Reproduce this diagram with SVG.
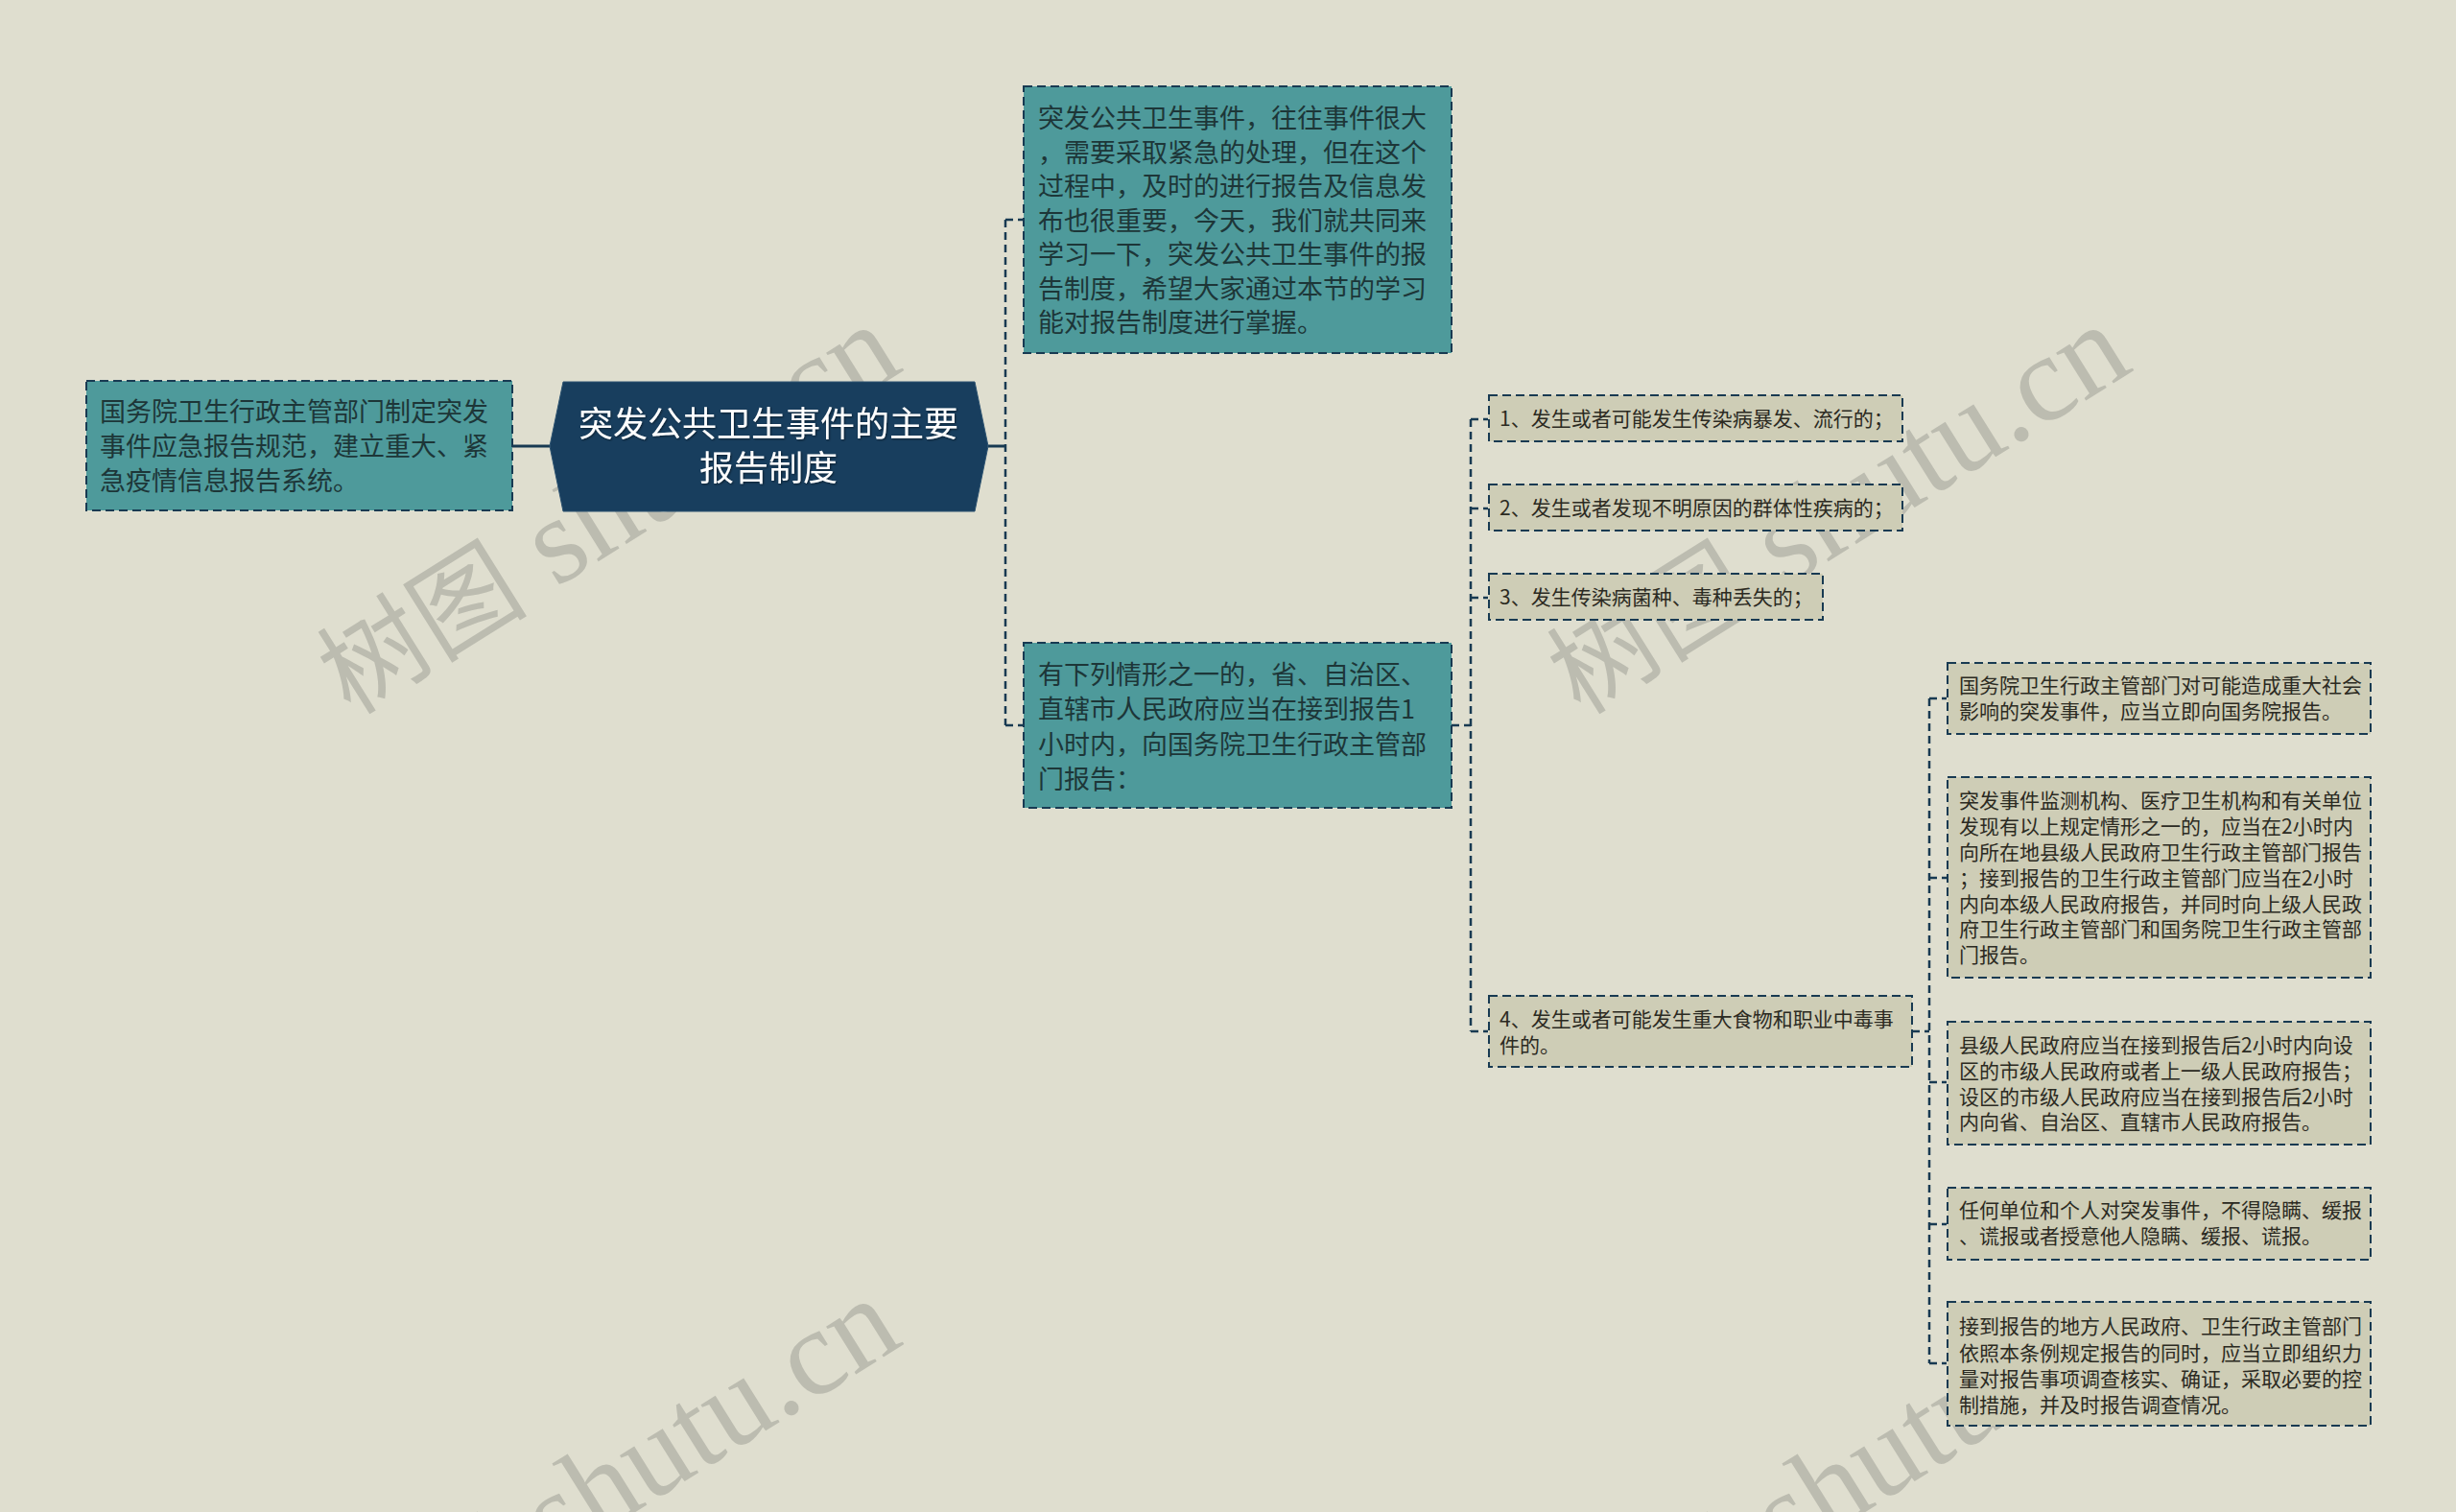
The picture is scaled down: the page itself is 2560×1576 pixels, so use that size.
<svg xmlns="http://www.w3.org/2000/svg" width="2560" height="1576" viewBox="0 0 2560 1576">
<defs>
<style>
.bg{fill:#dfdecf}
.wm{font-family:"Liberation Serif","Noto Sans CJK SC",serif;fill:#bcbcb0}
.t{font-family:"Noto Sans CJK SC","Noto Sans",sans-serif}
.teal{fill:#4e9a9b;stroke:#183a52;stroke-width:2;stroke-dasharray:9 5}
.leaf{fill:#cecdb6;stroke:#183a52;stroke-width:2;stroke-dasharray:9 5}
.tt{font-size:27px;fill:#1d3638}
.lt{font-size:21px;fill:#2b2a22}
.ct{font-size:36px;fill:#ffffff;text-anchor:middle}
.con{fill:none;stroke:#183a52;stroke-width:2.5;stroke-dasharray:8 5}
</style>
<filter id="sh" x="-5%" y="-20%" width="110%" height="140%"><feDropShadow dx="1" dy="1" stdDeviation="0.8" flood-color="#000" flood-opacity="0.5"/></filter>
</defs>
<rect class="bg" x="0" y="0" width="2560" height="1576"/>
<g id="watermarks">
<text class="wm" transform="translate(944,385) rotate(-32)" text-anchor="end"><tspan font-size="110">树图</tspan><tspan font-size="128"> shutu.cn</tspan></text>
<text class="wm" transform="translate(2226,385) rotate(-32)" text-anchor="end"><tspan font-size="110">树图</tspan><tspan font-size="128"> shutu.cn</tspan></text>
<text class="wm" transform="translate(944,1400) rotate(-32)" text-anchor="end"><tspan font-size="110">树图</tspan><tspan font-size="128"> shutu.cn</tspan></text>
<text class="wm" transform="translate(2226,1400) rotate(-32)" text-anchor="end"><tspan font-size="110">树图</tspan><tspan font-size="128"> shutu.cn</tspan></text>
</g>
<g id="connectors">
<line x1="534" y1="465" x2="573" y2="465" stroke="#183a52" stroke-width="3"/>
<line x1="1030" y1="465" x2="1048" y2="465" stroke="#183a52" stroke-width="3"/>
<path class="con" d="M1048,229 V756"/>
<path class="con" d="M1048,229 H1066 M1048,756 H1066"/>
<path class="con" d="M1513,756 H1533"/>
<path class="con" d="M1533,437 V1075"/>
<path class="con" d="M1533,437 H1551 M1533,530 H1551 M1533,623 H1551 M1533,1075 H1551"/>
<path class="con" d="M1993,1075 H2011"/>
<path class="con" d="M2011,728 V1421"/>
<path class="con" d="M2011,728 H2029 M2011,915 H2029 M2011,1128 H2029 M2011,1276 H2029 M2011,1421 H2029"/>
</g>
<g id="center">
<polygon points="573,465 587,398 1016,398 1030,465 1016,533 587,533" fill="#183e5e" stroke="#2c5270" stroke-width="1"/>
<text class="t ct" filter="url(#sh)"><tspan x="801" y="455">突发公共卫生事件的主要</tspan><tspan x="801" y="501">报告制度</tspan></text>
</g>
<g id="left">
<rect class="teal" x="90" y="397" width="444" height="135"/>
<text class="t tt"><tspan x="104" y="439">国务院卫生行政主管部门制定突发</tspan><tspan x="104" y="475">事件应急报告规范，建立重大、紧</tspan><tspan x="104" y="511">急疫情信息报告系统。</tspan></text>
</g>
<g id="intro">
<rect class="teal" x="1067" y="90" width="446" height="278"/>
<text class="t tt"><tspan x="1082" y="133">突发公共卫生事件，往往事件很大</tspan><tspan x="1082" y="169">，需要采取紧急的处理，但在这个</tspan><tspan x="1082" y="204">过程中，及时的进行报告及信息发</tspan><tspan x="1082" y="240">布也很重要，今天，我们就共同来</tspan><tspan x="1082" y="275">学习一下，突发公共卫生事件的报</tspan><tspan x="1082" y="311">告制度，希望大家通过本节的学习</tspan><tspan x="1082" y="346">能对报告制度进行掌握。</tspan></text>
</g>
<g id="situations">
<rect class="teal" x="1067" y="670" width="446" height="172"/>
<text class="t tt"><tspan x="1082" y="713">有下列情形之一的，省、自治区、</tspan><tspan x="1082" y="749">直辖市人民政府应当在接到报告1</tspan><tspan x="1082" y="786">小时内，向国务院卫生行政主管部</tspan><tspan x="1082" y="822">门报告：</tspan></text>
</g>
<g id="item1">
<rect class="leaf" x="1552" y="412" width="431" height="48"/>
<text class="t lt" x="1563" y="444">1、发生或者可能发生传染病暴发、流行的；</text>
</g>
<g id="item2">
<rect class="leaf" x="1552" y="505" width="431" height="48"/>
<text class="t lt" x="1563" y="537">2、发生或者发现不明原因的群体性疾病的；</text>
</g>
<g id="item3">
<rect class="leaf" x="1552" y="598" width="348" height="48"/>
<text class="t lt" x="1563" y="630">3、发生传染病菌种、毒种丢失的；</text>
</g>
<g id="item4">
<rect class="leaf" x="1552" y="1038" width="441" height="74"/>
<text class="t lt"><tspan x="1563" y="1070">4、发生或者可能发生重大食物和职业中毒事</tspan><tspan x="1563" y="1097">件的。</tspan></text>
</g>
<g id="r1">
<rect class="leaf" x="2030" y="691" width="441" height="74"/>
<text class="t lt"><tspan x="2042" y="722">国务院卫生行政主管部门对可能造成重大社会</tspan><tspan x="2042" y="749">影响的突发事件，应当立即向国务院报告。</tspan></text>
</g>
<g id="r2">
<rect class="leaf" x="2030" y="810" width="441" height="209"/>
<text class="t lt"><tspan x="2042" y="842">突发事件监测机构、医疗卫生机构和有关单位</tspan><tspan x="2042" y="869">发现有以上规定情形之一的，应当在2小时内</tspan><tspan x="2042" y="896">向所在地县级人民政府卫生行政主管部门报告</tspan><tspan x="2042" y="923">；接到报告的卫生行政主管部门应当在2小时</tspan><tspan x="2042" y="950">内向本级人民政府报告，并同时向上级人民政</tspan><tspan x="2042" y="976">府卫生行政主管部门和国务院卫生行政主管部</tspan><tspan x="2042" y="1003">门报告。</tspan></text>
</g>
<g id="r3">
<rect class="leaf" x="2030" y="1065" width="441" height="128"/>
<text class="t lt"><tspan x="2042" y="1097">县级人民政府应当在接到报告后2小时内向设</tspan><tspan x="2042" y="1124">区的市级人民政府或者上一级人民政府报告；</tspan><tspan x="2042" y="1151">设区的市级人民政府应当在接到报告后2小时</tspan><tspan x="2042" y="1177">内向省、自治区、直辖市人民政府报告。</tspan></text>
</g>
<g id="r4">
<rect class="leaf" x="2030" y="1238" width="441" height="75"/>
<text class="t lt"><tspan x="2042" y="1269">任何单位和个人对突发事件，不得隐瞒、缓报</tspan><tspan x="2042" y="1296">、谎报或者授意他人隐瞒、缓报、谎报。</tspan></text>
</g>
<g id="r5">
<rect class="leaf" x="2030" y="1357" width="441" height="129"/>
<text class="t lt"><tspan x="2042" y="1390">接到报告的地方人民政府、卫生行政主管部门</tspan><tspan x="2042" y="1418">依照本条例规定报告的同时，应当立即组织力</tspan><tspan x="2042" y="1445">量对报告事项调查核实、确证，采取必要的控</tspan><tspan x="2042" y="1472">制措施，并及时报告调查情况。</tspan></text>
</g>
</svg>
